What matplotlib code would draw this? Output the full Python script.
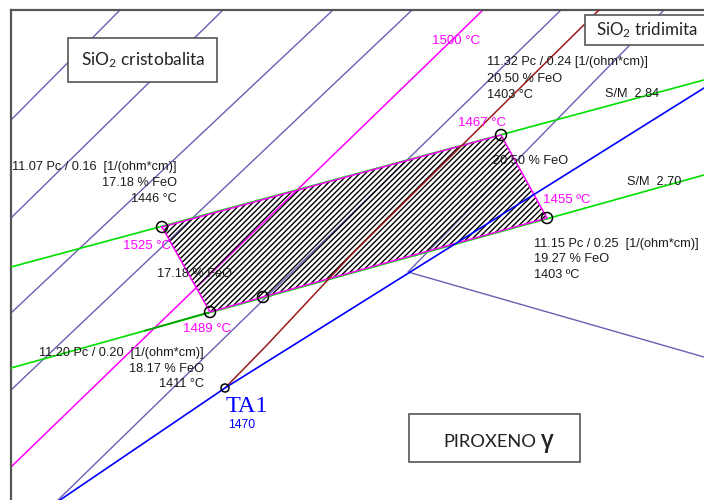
import matplotlib
matplotlib.use("Agg")
import matplotlib.pyplot as plt
from matplotlib.patches import Polygon, Circle, Rectangle

# drawing units: x to the right, y downward (same grid as the sheet)
iso_lines = [
    ([120, 11], [10, 120]),
    ([223, 11], [10, 218]),
    ([333, 11], [10, 313]),
    ([412, 11], [10, 390]),
    ([561, 58], [10, 500]),
    ([664, 408, 704], [10, 272, 357]),
]
iso1500_x = [483, 11]
iso1500_y = [10, 467]

path_x = [599, 437, 353, 267, 225]
path_y = [10, 170, 253, 345, 388]

liq_x = [60, 225, 704]
liq_y = [500, 388, 88]

sm284_x = [11, 704]
sm284_y = [267, 80]
sm270_x = [11, 704]
sm270_y = [368, 175]

zone_x = [162, 501, 547, 263, 210]
zone_y = [227, 135, 218, 297, 312]

ta1_x, ta1_y = 225, 388

SLATE = "#6a5fb4"
MAGENTA = "#ff00ff"
GREEN = "#00e000"
SANS = ["Liberation Sans", "DejaVu Sans"]
BOXFONT = ["Lato", "Open Sans", "DejaVu Sans"]
FS = 9.2

plt.rcParams["hatch.linewidth"] = 1.0
plt.rcParams["mathtext.fontset"] = "custom"
plt.rcParams["mathtext.rm"] = "Lato"
plt.rcParams["mathtext.default"] = "regular"

fig = plt.figure(figsize=(7.04, 5.0), dpi=100)
ax = fig.add_axes([11 / 704, 0, 693 / 704, 490 / 500])
ax.set_xlim(11, 704)
ax.set_ylim(500, 10)
ax.set_xticks([])
ax.set_yticks([])
for side in ("right", "bottom"):
    ax.spines[side].set_visible(False)
for side in ("left", "top"):
    ax.spines[side].set_color("#555555")
    ax.spines[side].set_linewidth(1.6)

for xs, ys in iso_lines:
    ax.plot(xs, ys, color=SLATE, lw=1.0, zorder=2)
ax.plot(iso1500_x, iso1500_y, color=MAGENTA, lw=1.1, zorder=2)

# hatched field
pts = list(zip(zone_x, zone_y))
ax.add_patch(Polygon(pts, closed=True, facecolor="white", edgecolor="none", zorder=1))
ax.add_patch(Polygon(pts, closed=True, fill=False, hatch="//////", edgecolor="black",
                     lw=0, zorder=3))

ax.plot(sm284_x, sm284_y, color=GREEN, lw=1.2, zorder=4)
ax.plot(sm270_x, sm270_y, color=GREEN, lw=1.2, zorder=4)
ax.plot([145, zone_x[4]], [sm270_y[0] + (sm270_y[1] - sm270_y[0]) * (145 - 11) / 693, zone_y[4]],
        color="#00a000", lw=1.2, zorder=4)
ax.plot(zone_x + [zone_x[0]], zone_y + [zone_y[0]], color=MAGENTA, lw=1.1, zorder=5)

ax.plot(path_x, path_y, color="#9b1b1b", lw=1.1, zorder=5)
ax.plot(liq_x, liq_y, color="#0000ff", lw=1.2, zorder=5)

for x, y in zip(zone_x, zone_y):
    ax.add_patch(Circle((x, y), 5.5, fill=False, edgecolor="black", lw=1.1, zorder=6))
ax.add_patch(Circle((ta1_x, ta1_y), 4, fill=False, edgecolor="black", lw=1.1, zorder=6))

# framed phase names
ax.add_patch(Rectangle((68, 38), 149, 44, facecolor="white", edgecolor="#555555",
                       lw=1.2, zorder=7))
ax.text(143, 60, r"SiO$_2$ cristobalita", fontsize=12.5, family=BOXFONT, ha="center",
        va="center", color="#222222", zorder=8)
ax.add_patch(Rectangle((585, 15), 125, 30, facecolor="white", edgecolor="#555555",
                       lw=1.2, zorder=7, clip_on=False))
ax.text(596, 30, r"SiO$_2$ tridimita", fontsize=12.2, family=BOXFONT, ha="left",
        va="center", color="#222222", zorder=8)

ax.add_patch(Rectangle((409, 414), 171, 48, facecolor="white", edgecolor="#555555",
                       lw=1.2, zorder=7))
ax.text(443, 442, "PIROXENO", fontsize=13.2, family=BOXFONT, ha="left", va="center",
        color="#222222", zorder=8)
ax.text(541, 441, "γ", fontsize=17, family=["Open Sans", "DejaVu Sans"], fontweight="semibold",
        ha="left", va="center", color="#222222", zorder=8)

# point annotations
blocks = [
    (177, [167, 183, 199], "right",
     ["11.07 Pc / 0.16  [1/(ohm*cm)]", "17.18 % FeO", "1446 °C"]),
    (487, [62, 79, 95], "left",
     ["11.32 Pc / 0.24 [1/(ohm*cm)]", "20.50 % FeO", "1403 °C"]),
    (534, [244, 259, 275], "left",
     ["11.15 Pc / 0.25  [1/(ohm*cm)]", "19.27 % FeO", "1403 ºC"]),
    (204, [353, 369, 384], "right",
     ["11.20 Pc / 0.20  [1/(ohm*cm)]", "18.17 % FeO", "1411 °C"]),
]
for x, ys, ha, lines in blocks:
    for y, s in zip(ys, lines):
        ax.text(x, y, s, fontsize=FS, family=SANS, ha=ha, va="center",
                color="#1a1a1a", zorder=8)

plain = [
    (493, 161, "20.50 % FeO"),
    (157, 274, "17.18 % FeO"),
    (605, 94, "S/M  2.84"),
    (627, 182, "S/M  2.70"),
]
for x, y, s in plain:
    ax.text(x, y, s, fontsize=FS, family=SANS, ha="left", va="center",
            color="#1a1a1a", zorder=8)

temps = [
    (432, 41, "1500 °C"),
    (458, 123, "1467 °C"),
    (543, 200, "1455 ºC"),
    (123, 246, "1525 °C"),
    (183, 329, "1489 °C"),
]
for x, y, s in temps:
    ax.text(x, y, s, fontsize=FS + 0.3, family=SANS, ha="left", va="center",
            color=MAGENTA, zorder=8)

ax.text(226, 406, "TA1", fontsize=17.5, family="Liberation Serif", ha="left",
        va="center", color="#0000ff", zorder=8)
ax.text(228, 425, "1470", fontsize=8.8, family=SANS, ha="left", va="center",
        color="#0000ff", zorder=8)

fig.savefig("out.png", dpi=100)
